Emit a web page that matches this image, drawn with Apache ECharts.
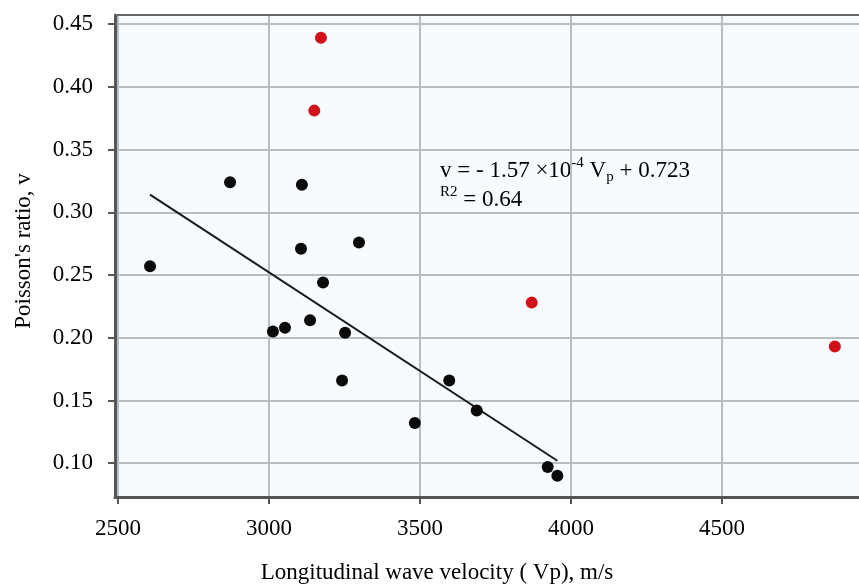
<!DOCTYPE html>
<html>
<head>
<meta charset="utf-8">
<script src="https://cdn.jsdelivr.net/npm/echarts@6/dist/echarts.min.js"></script>
<style>
html, body { margin: 0; padding: 0; background: #fff; }
#chart { width: 859px; height: 585px; }
</style>
</head>
<body>
<div id="chart"></div>
<script>
// measured points (Vp m/s, Poisson's ratio)
const blackVp = [2606, 2871, 3109, 3106, 3298, 3179, 3013, 3053, 3136, 3252, 3242, 3483, 3597, 3688, 3923, 3955];
const blackNu = [0.257, 0.324, 0.322, 0.271, 0.276, 0.244, 0.205, 0.208, 0.214, 0.204, 0.166, 0.132, 0.166, 0.142, 0.097, 0.090];
const redVp = [3172, 3150, 3870, 4874];
const redNu = [0.439, 0.381, 0.228, 0.193];
// fitted line ends
const fitVp = [2606, 3955];
const fitNu = [0.314, 0.102];
const xTicks = [2500, 3000, 3500, 4000, 4500];
const yTicks = [0.10, 0.15, 0.20, 0.25, 0.30, 0.35, 0.40, 0.45];

const serif = '"Liberation Serif", "DejaVu Serif", serif';
const gridColor = '#b6bdc3';
const axisColor = '#555';

let chart = echarts.init(document.getElementById('chart'));

chart.setOption({
    animation: false,
    grid: {
        left: 115, right: 0, top: 15, bottom: 88,
        show: true,
        backgroundColor: '#f7fbfd',
        borderWidth: 0
    },
    xAxis: [
        {
            type: 'value',
            min: 2490, max: 4954,
            axisLine: { show: true, onZero: false, lineStyle: { color: axisColor, width: 3 } },
            axisTick: { show: true, length: 7, customValues: xTicks, lineStyle: { color: axisColor, width: 2 } },
            axisLabel: {
                customValues: xTicks, margin: 20, color: '#000', fontFamily: serif, fontSize: 23,
                formatter: v => String(v)
            },
            splitLine: { show: true, lineStyle: { color: gridColor, width: 2 } }
        },
        {
            // top frame line only
            type: 'value', position: 'top',
            min: 2490, max: 4954,
            axisLine: { show: true, onZero: false, lineStyle: { color: '#666', width: 2 } },
            axisTick: { show: false },
            axisLabel: { show: false },
            splitLine: { show: false }
        }
    ],
    yAxis: {
        type: 'value',
        min: 0.0731, max: 0.4572,
        axisLine: { show: true, onZero: false, lineStyle: { color: axisColor, width: 3 } },
        axisTick: { show: true, length: 7, customValues: yTicks, lineStyle: { color: axisColor, width: 2 } },
        axisLabel: {
            customValues: yTicks, margin: 22, color: '#000', fontFamily: serif, fontSize: 23,
            formatter: v => v.toFixed(2)
        },
        splitLine: { show: true, lineStyle: { color: gridColor, width: 2 } }
    },
    graphic: [
        {
            type: 'text', x: 440, y: 156,
            style: {
                text: '{a|v = - 1.57 ×10}{sup|-4}{a| V}{sub|p}{a| + 0.723}\n{sup|R2}{a| = 0.64}',
                fill: '#000',
                font: '23px ' + serif,
                rich: {
                    a: { fontSize: 23, fontFamily: serif, lineHeight: 29 },
                    sup: { fontSize: 15, fontFamily: serif, lineHeight: 20, verticalAlign: 'top' },
                    sub: { fontSize: 15, fontFamily: serif, lineHeight: 16, verticalAlign: 'bottom' }
                }
            }
        },
        {
            type: 'text', x: 24, y: 251, rotation: Math.PI / 2,
            style: {
                text: "Poisson's ratio, v", fill: '#000',
                font: '23px ' + serif, textAlign: 'center', textVerticalAlign: 'middle'
            }
        },
        {
            type: 'text', x: 437, y: 573,
            style: {
                text: 'Longitudinal wave velocity ( Vp), m/s', fill: '#000',
                font: '23px ' + serif, textAlign: 'center', textVerticalAlign: 'middle'
            }
        }
    ],
    series: [
        {
            type: 'line',
            data: fitVp.map((v, i) => [v, fitNu[i]]),
            symbol: 'none',
            lineStyle: { color: '#1a1a1a', width: 2 },
            z: 3
        },
        {
            type: 'scatter',
            data: blackVp.map((v, i) => [v, blackNu[i]]),
            symbolSize: 12,
            itemStyle: { color: '#0a0a0a', opacity: 1 },
            z: 4
        },
        {
            type: 'scatter',
            data: redVp.map((v, i) => [v, redNu[i]]),
            symbolSize: 12,
            itemStyle: { color: '#d2101a', opacity: 1 },
            z: 4
        }
    ]
});
</script>
</body>
</html>
